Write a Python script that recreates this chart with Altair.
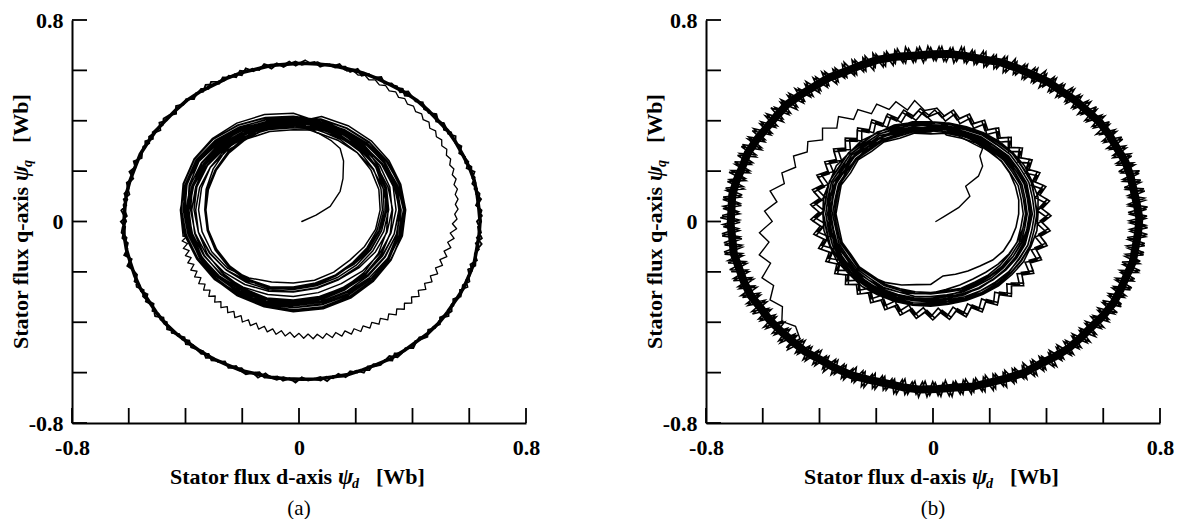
import numpy as np
import pandas as pd
import altair as alt

# ---------------- text ----------------
X_TITLE = ["Stator flux d-axis", "ψ", "d", "[Wb]"]
Y_TITLE = ["Stator flux q-axis", "ψ", "q", "[Wb]"]
CAPTIONS = ["(a)", "(b)"]
TICKS = [-0.8, -0.6, -0.4, -0.2, 0.0, 0.2, 0.4, 0.6, 0.8]
LABEL_VALUES = [-0.8, 0.0, 0.8]
LABEL_TEXT = ["-0.8", "0", "0.8"]

# ---------------- panel (a) ----------------
A_START_X = [0.01, 0.06, 0.11, 0.145, 0.155, 0.157, 0.145, 0.115, 0.07, 0.02, -0.02]
A_START_Y = [0.0, 0.025, 0.06, 0.12, 0.17, 0.24, 0.29, 0.32, 0.35, 0.37, 0.376]

A_INNER_CENTER = (-0.02, 0.046)
A_INNER_STEP = 15
A_INNER_LOOPS = [
    [0.330,0.332,0.336,0.340,0.338,0.335,0.334,0.333,0.332,0.328,0.312,0.296,0.290,0.289,0.285,0.282,0.290,0.300,0.306,0.312,0.316,0.320,0.325,0.330],
    [0.334,0.340,0.348,0.354,0.358,0.356,0.350,0.346,0.342,0.336,0.326,0.316,0.306,0.300,0.298,0.304,0.314,0.322,0.330,0.336,0.338,0.340,0.340,0.338],
    [0.340,0.348,0.358,0.366,0.372,0.368,0.362,0.358,0.354,0.348,0.342,0.334,0.326,0.322,0.320,0.326,0.334,0.342,0.348,0.352,0.352,0.348,0.346,0.344],
    [0.348,0.356,0.368,0.378,0.384,0.380,0.372,0.368,0.364,0.360,0.354,0.348,0.344,0.340,0.338,0.344,0.350,0.356,0.362,0.364,0.360,0.358,0.354,0.350],
    [0.354,0.362,0.374,0.384,0.390,0.388,0.382,0.378,0.374,0.370,0.366,0.362,0.358,0.356,0.356,0.360,0.364,0.368,0.372,0.372,0.370,0.366,0.362,0.358],
    [0.350,0.340,0.330,0.322,0.316,0.312,0.310,0.312,0.316,0.320,0.322,0.320,0.316,0.312,0.310,0.312,0.316,0.322,0.328,0.334,0.340,0.346,0.352,0.358],
    [0.362,0.370,0.380,0.390,0.396,0.394,0.388,0.384,0.380,0.378,0.374,0.370,0.368,0.366,0.364,0.368,0.372,0.376,0.378,0.378,0.374,0.370,0.366,0.364],
    [0.370,0.378,0.388,0.398,0.404,0.402,0.396,0.392,0.390,0.388,0.386,0.384,0.382,0.380,0.378,0.380,0.384,0.386,0.388,0.386,0.382,0.378,0.374,0.372],
    [0.366,0.356,0.346,0.336,0.326,0.318,0.312,0.310,0.312,0.316,0.318,0.316,0.310,0.304,0.300,0.302,0.308,0.316,0.326,0.336,0.346,0.356,0.364,0.370],
    [0.372,0.380,0.390,0.398,0.402,0.400,0.396,0.394,0.392,0.392,0.390,0.388,0.388,0.386,0.384,0.386,0.388,0.390,0.390,0.388,0.384,0.380,0.376,0.374],
    [0.360,0.362,0.366,0.370,0.374,0.376,0.378,0.380,0.382,0.386,0.390,0.396,0.400,0.402,0.400,0.398,0.398,0.396,0.392,0.388,0.380,0.372,0.366,0.362],
    [0.356,0.346,0.336,0.326,0.318,0.314,0.312,0.314,0.318,0.322,0.324,0.322,0.316,0.308,0.302,0.300,0.304,0.312,0.320,0.328,0.336,0.342,0.348,0.352],
    [0.352,0.354,0.358,0.362,0.366,0.370,0.374,0.378,0.382,0.386,0.392,0.398,0.404,0.406,0.404,0.400,0.398,0.394,0.388,0.380,0.372,0.364,0.358,0.354],
    [0.346,0.348,0.352,0.356,0.362,0.366,0.370,0.376,0.380,0.384,0.388,0.392,0.396,0.398,0.396,0.394,0.390,0.386,0.380,0.372,0.364,0.356,0.350,0.348],
    [0.344,0.336,0.328,0.320,0.314,0.310,0.308,0.310,0.314,0.318,0.320,0.318,0.312,0.304,0.298,0.296,0.300,0.306,0.314,0.320,0.326,0.330,0.334,0.336],
    [0.338,0.340,0.344,0.348,0.352,0.356,0.358,0.360,0.362,0.362,0.362,0.362,0.360,0.360,0.360,0.358,0.356,0.354,0.350,0.346,0.342,0.340,0.338,0.338],
    [0.340,0.346,0.352,0.360,0.366,0.370,0.372,0.374,0.376,0.378,0.380,0.384,0.388,0.390,0.390,0.388,0.384,0.380,0.374,0.368,0.360,0.352,0.346,0.342],
    [0.334,0.338,0.344,0.352,0.358,0.364,0.368,0.370,0.372,0.374,0.376,0.376,0.374,0.370,0.366,0.362,0.358,0.354,0.350,0.346,0.342,0.338,0.336,0.334],
    [0.326,0.330,0.338,0.344,0.350,0.352,0.350,0.346,0.340,0.336,0.332,0.328,0.324,0.320,0.318,0.320,0.324,0.330,0.336,0.340,0.338,0.334,0.330,0.328],
    [0.318,0.322,0.326,0.332,0.338,0.342,0.344,0.346,0.350,0.354,0.358,0.362,0.364,0.362,0.358,0.352,0.346,0.340,0.334,0.328,0.324,0.320,0.318,0.318],
    [0.364,0.372,0.378,0.386,0.394,0.392,0.386,0.380,0.376,0.372,0.368,0.366,0.362,0.358,0.354,0.358,0.362,0.368,0.374,0.376,0.372,0.368,0.366,0.364],
    [0.358,0.364,0.372,0.380,0.388,0.394,0.398,0.396,0.392,0.388,0.384,0.380,0.378,0.376,0.374,0.372,0.374,0.376,0.378,0.376,0.372,0.368,0.364,0.360],
    [0.384,0.392,0.398,0.402,0.404,0.400,0.394,0.390,0.388,0.390,0.394,0.398,0.400,0.398,0.396,0.394,0.396,0.398,0.396,0.392,0.390,0.388,0.386,0.384],
    [0.346,0.354,0.364,0.374,0.384,0.392,0.398,0.402],
]

A_SPIRAL_CENTER = (0.0, 0.01)
A_SPIRAL_START = 190
A_SPIRAL_STEP = 2
A_SPIRAL_R = [
    0.402,0.421,0.405,0.424,0.407,0.426,0.410,0.429,0.412,0.432,0.415,0.434,0.417,0.437,0.420,0.439,0.422,0.442,0.425,0.444,
    0.428,0.447,0.430,0.449,0.433,0.452,0.435,0.455,0.438,0.457,0.440,0.460,0.443,0.462,0.446,0.465,0.448,0.467,0.451,0.470,
    0.454,0.474,0.458,0.478,0.462,0.481,0.465,0.485,0.469,0.489,0.473,0.493,0.477,0.497,0.481,0.500,0.484,0.504,0.488,0.508,
    0.492,0.512,0.496,0.516,0.500,0.519,0.503,0.523,0.507,0.527,0.511,0.531,0.515,0.535,0.519,0.538,0.522,0.542,0.527,0.547,
    0.532,0.552,0.536,0.557,0.541,0.557,0.549,0.562,0.554,0.566,0.559,0.571,0.563,0.576,0.568,0.581,0.573,0.585,0.578,0.590,
    0.581,0.593,0.584,0.595,0.585,0.598,0.589,0.601,0.592,0.603,0.595,0.606,0.597,0.609,0.600,0.611,0.603,0.614,0.605,0.617,
    0.608,0.619,0.611,0.622,0.613,0.625,0.616,0.627,0.619,0.630,
]

A_OUTER_CENTER = (0.01, 0.0)
A_OUTER_START = 90
A_OUTER_STEP = 2
A_OUTER_LOOPS = [
    [0.633,0.619,0.637,0.624,0.630,0.616,0.635,0.626,0.621,0.639,0.618,0.631,0.625,0.636,0.620,0.629,0.640,0.622,0.632,0.617,
     0.634,0.625,0.638,0.619,0.630,0.623,0.637,0.616,0.628,0.635,0.621,0.633,0.626,0.618,0.639,0.624,0.631,0.620,0.636,0.627,
     0.617,0.634,0.622,0.638,0.626,0.619,0.632,0.637,0.621,0.629,0.624,0.640,0.618,0.633,0.627,0.620,0.636,0.625,0.631,0.616,
     0.635,0.623,0.629,0.639,0.619,0.632,0.626,0.637,0.622,0.630,0.617,0.634,0.628,0.621,0.638,0.624,0.631,0.618,0.636,0.627,
     0.620,0.633,0.625,0.639,0.616,0.630,0.635,0.622,0.628,0.637,0.619,0.632,0.626,0.621,0.640,0.624,0.629,0.634,0.618,0.631,
     0.627,0.636,0.620,0.633,0.623,0.638,0.617,0.630,0.625,0.635,0.621,0.629,0.637,0.619,0.632,0.626,0.622,0.639,0.624,0.630,
     0.616,0.634,0.628,0.621,0.637,0.625,0.631,0.618,0.636,0.623,0.629,0.640,0.620,0.633,0.626,0.617,0.635,0.627,0.622,0.638,
     0.624,0.631,0.619,0.634,0.628,0.636,0.621,0.630,0.617,0.633,0.625,0.639,0.622,0.629,0.635,0.618,0.632,0.626,0.620,0.637,
     0.623,0.630,0.638,0.619,0.633,0.627,0.621,0.636,0.624,0.631,0.616,0.634,0.628,0.622,0.639,0.625,0.630,0.618,0.635,0.629],
    [0.622,0.636,0.628,0.617,0.634,0.625,0.639,0.620,0.631,0.626,0.637,0.618,0.633,0.623,0.629,0.640,0.621,0.635,0.627,0.619,
     0.632,0.624,0.638,0.616,0.630,0.636,0.622,0.628,0.634,0.619,0.637,0.625,0.631,0.620,0.633,0.627,0.639,0.618,0.629,0.624,
     0.635,0.621,0.632,0.626,0.617,0.638,0.623,0.630,0.636,0.619,0.627,0.633,0.622,0.640,0.625,0.618,0.631,0.637,0.620,0.634,
     0.628,0.616,0.635,0.624,0.632,0.621,0.639,0.626,0.630,0.618,0.636,0.623,0.629,0.634,0.620,0.637,0.627,0.622,0.633,0.619,
     0.631,0.638,0.625,0.617,0.634,0.628,0.621,0.636,0.624,0.640,0.619,0.630,0.626,0.635,0.622,0.632,0.618,0.637,0.627,0.623,
     0.639,0.620,0.629,0.634,0.625,0.617,0.636,0.631,0.621,0.638,0.626,0.619,0.633,0.628,0.624,0.635,0.618,0.630,0.637,0.622,
     0.627,0.633,0.620,0.639,0.624,0.629,0.616,0.636,0.631,0.623,0.634,0.619,0.638,0.626,0.621,0.632,0.628,0.635,0.617,0.630,
     0.636,0.622,0.631,0.625,0.640,0.618,0.633,0.627,0.620,0.637,0.624,0.629,0.634,0.619,0.632,0.626,0.638,0.621,0.628,0.635,
     0.623,0.630,0.617,0.636,0.627,0.633,0.620,0.639,0.625,0.631,0.622,0.637,0.618,0.634,0.628,0.624,0.632,0.626,0.629,0.630],
]
A_CORE_STEP = 5
A_CORE_R = [0.628,0.627,0.629,0.626,0.628,0.627,0.625,0.628,0.629,0.627,0.626,0.628,0.627,0.629,0.626,0.627,0.628,0.626,
            0.627,0.629,0.628,0.626,0.627,0.628,0.625,0.627,0.629,0.628,0.626,0.627,0.628,0.627,0.629,0.626,0.628,0.627,
            0.626,0.628,0.627,0.629,0.627,0.626,0.628,0.627,0.625,0.628,0.629,0.627,0.626,0.628,0.627,0.629,0.626,0.627,
            0.628,0.626,0.627,0.629,0.628,0.626,0.627,0.628,0.625,0.627,0.629,0.628,0.626,0.627,0.628,0.627,0.629,0.628]

# ---------------- panel (b) ----------------
B_START_X = [0.01, 0.04, 0.09, 0.13, 0.115, 0.16, 0.175, 0.165, 0.175, 0.14, 0.09, 0.03, -0.008]
B_START_Y = [0.0, 0.02, 0.055, 0.10, 0.14, 0.18, 0.22, 0.26, 0.29, 0.31, 0.34, 0.355, 0.36]

B_INNER_CENTER = (-0.008, 0.03)
B_INNER_STEP_A = 10
B_INNER_LOOPS_A = [
    [0.330,0.335,0.338,0.340,0.345,0.340,0.345,0.338,0.342,0.336,0.340,0.335,0.330,0.332,0.325,0.315,0.300,0.285,0.280,0.250,0.255,0.262,0.270,0.285,0.295,0.300,0.305,0.310,0.315,0.318,0.322,0.325,0.325,0.328,0.330,0.330],
    [0.335,0.345,0.342,0.352,0.348,0.356,0.350,0.358,0.352,0.356,0.350,0.354,0.346,0.350,0.342,0.338,0.330,0.322,0.315,0.305,0.300,0.298,0.302,0.310,0.318,0.325,0.330,0.335,0.338,0.342,0.340,0.345,0.340,0.342,0.338,0.338],
    [0.340,0.352,0.346,0.360,0.354,0.364,0.356,0.366,0.358,0.364,0.356,0.362,0.354,0.358,0.350,0.352,0.346,0.340,0.335,0.330,0.326,0.322,0.325,0.330,0.336,0.340,0.345,0.348,0.352,0.350,0.354,0.348,0.352,0.346,0.344,0.342],
    [0.344,0.350,0.356,0.352,0.360,0.356,0.362,0.358,0.364,0.360,0.362,0.358,0.360,0.354,0.356,0.350,0.352,0.346,0.344,0.340,0.342,0.338,0.342,0.346,0.350,0.354,0.352,0.358,0.354,0.360,0.356,0.358,0.352,0.354,0.348,0.346],
    [0.348,0.344,0.352,0.348,0.356,0.352,0.358,0.354,0.360,0.356,0.358,0.354,0.356,0.350,0.352,0.348,0.346,0.344,0.340,0.342,0.338,0.342,0.340,0.346,0.344,0.350,0.348,0.352,0.350,0.354,0.352,0.354,0.350,0.352,0.348,0.350],
    [0.352,0.358,0.362,0.366,0.364,0.370,0.366,0.372,0.368,0.370,0.366,0.368,0.364,0.366,0.360,0.362,0.356,0.358,0.354,0.352,0.356,0.352,0.356,0.360,0.358,0.364,0.362,0.366,0.364,0.368,0.364,0.366,0.360,0.362,0.356,0.354],
    [0.336,0.340,0.334,0.342,0.338,0.344,0.340,0.346,0.342,0.346,0.340,0.344,0.338,0.340,0.334,0.336,0.330,0.332,0.328,0.326,0.330,0.328,0.332,0.334,0.336,0.338,0.336,0.340,0.338,0.342,0.338,0.340,0.336,0.338,0.334,0.336],
    [0.358,0.364,0.370,0.374,0.372,0.378,0.374,0.380,0.376,0.378,0.374,0.376,0.372,0.374,0.368,0.370,0.366,0.364,0.362,0.360,0.362,0.364,0.366,0.368,0.370,0.372,0.370,0.374,0.372,0.376,0.372,0.374,0.368,0.370,0.364,0.362],
    [0.342,0.348,0.344,0.350,0.346,0.352,0.348,0.354,0.350,0.352,0.348,0.350,0.344,0.346,0.342,0.344,0.340,0.338,0.336,0.334,0.336,0.338,0.340,0.342,0.344,0.346,0.344,0.348,0.346,0.350,0.346,0.348,0.344,0.346,0.342,0.344],
    [0.362,0.368,0.376,0.372,0.380,0.376,0.384,0.378,0.384,0.380,0.382,0.378,0.380,0.374,0.376,0.372,0.370,0.368,0.366,0.364,0.366,0.368,0.372,0.374,0.378,0.376,0.380,0.378,0.384,0.380,0.382,0.378,0.376,0.372,0.368,0.366],
    [0.366,0.372,0.366,0.376,0.370,0.378,0.372,0.380,0.374,0.378,0.372,0.376,0.368,0.372,0.364,0.366,0.360,0.358,0.356,0.354,0.358,0.360,0.362,0.366,0.368,0.372,0.370,0.376,0.372,0.378,0.374,0.376,0.370,0.372,0.366,0.364],
    [0.356,0.362,0.358,0.366,0.362,0.370,0.364,0.372,0.366,0.370,0.364,0.368,0.360,0.364,0.356,0.358,0.352,0.350,0.348,0.346,0.350,0.352,0.354,0.358,0.360,0.364,0.362,0.366,0.364,0.368,0.364,0.366,0.362,0.364,0.360,0.362],
    [0.326,0.332,0.328,0.336,0.332,0.340,0.334,0.342,0.336,0.340,0.334,0.338,0.330,0.334,0.326,0.328,0.322,0.320,0.318,0.316,0.320,0.318,0.322,0.326,0.328,0.332,0.330,0.334,0.332,0.336,0.332,0.334,0.330,0.332,0.328,0.326],
    [0.318,0.326,0.320,0.330,0.324,0.334,0.326,0.336,0.330,0.334,0.328,0.332,0.324,0.328,0.320,0.322,0.316,0.314,0.312,0.310,0.314,0.312,0.316,0.318,0.320,0.324,0.322,0.326,0.324,0.328,0.324,0.326,0.322,0.324,0.320,0.318],
]
B_INNER_STEP_B = 4
B_INNER_STARTS_B = [90, 92, 91]
B_INNER_LOOPS_B = [
    [0.372,0.404,0.375,0.408,0.378,0.410,0.376,0.412,0.380,0.414,0.378,0.412,0.381,0.415,0.379,0.413,0.382,0.416,0.380,0.414,
     0.378,0.411,0.376,0.409,0.374,0.406,0.372,0.404,0.370,0.401,0.368,0.399,0.366,0.397,0.365,0.396,0.364,0.398,0.366,0.400,
     0.368,0.402,0.370,0.405,0.373,0.408,0.375,0.411,0.378,0.414,0.380,0.416,0.382,0.418,0.384,0.420,0.386,0.421,0.386,0.420,
     0.384,0.418,0.382,0.416,0.380,0.413,0.378,0.410,0.376,0.408,0.374,0.406,0.372,0.404,0.371,0.403,0.370,0.402,0.370,0.402,
     0.371,0.403,0.372,0.404,0.372,0.404,0.373,0.405,0.372,0.404],
    [0.384,0.412,0.386,0.416,0.388,0.418,0.387,0.420,0.390,0.421,0.388,0.419,0.391,0.422,0.389,0.420,0.392,0.423,0.390,0.421,
     0.388,0.418,0.386,0.416,0.384,0.413,0.382,0.411,0.380,0.408,0.378,0.406,0.377,0.404,0.376,0.403,0.375,0.404,0.377,0.406,
     0.379,0.409,0.381,0.411,0.383,0.414,0.385,0.417,0.388,0.420,0.390,0.422,0.392,0.424,0.394,0.426,0.395,0.427,0.395,0.426,
     0.393,0.424,0.391,0.422,0.389,0.419,0.387,0.417,0.385,0.415,0.384,0.413,0.382,0.411,0.381,0.410,0.380,0.409,0.380,0.409,
     0.381,0.410,0.382,0.411,0.383,0.412,0.384,0.413,0.384,0.413],
    [0.392,0.420,0.394,0.423,0.396,0.425,0.395,0.427,0.398,0.428,0.396,0.426,0.399,0.429,0.397,0.427,0.400,0.430,0.398,0.428,
     0.396,0.425,0.394,0.423,0.392,0.420,0.390,0.418,0.388,0.415,0.386,0.413,0.385,0.411,0.384,0.410,0.383,0.411,0.385,0.413,
     0.387,0.416,0.389,0.418,0.391,0.421,0.393,0.424,0.396,0.427,0.398,0.429,0.400,0.431,0.402,0.433,0.403,0.434,0.403,0.433,
     0.401,0.431,0.399,0.429,0.397,0.426,0.395,0.424,0.393,0.422,0.392,0.420,0.390,0.418,0.389,0.417,0.388,0.416,0.388,0.416,
     0.389,0.417,0.390,0.418,0.391,0.419,0.392,0.420,0.392,0.420],
]

B_SPIRAL_CENTER = (0.0, 0.02)
B_SPIRAL_START = 94
B_SPIRAL_STEP = 4
B_SPIRAL_R = [0.422,0.465,0.432,0.474,0.452,0.488,0.462,0.500,0.476,0.518,0.488,0.524,0.494,0.532,0.512,0.547,0.522,
              0.560,0.540,0.583,0.553,0.594,0.567,0.615,0.587,0.631,0.602,0.650,0.625,0.663,0.640,0.676,0.652,0.675]

B_OUTER_CENTER = (0.005, 0.0)
B_OUTER_XSTRETCH = 1.08
B_OUTER_START = 226
B_CORE_STEP = 5
B_CORE_R = [0.664,0.667,0.663,0.666,0.668,0.664,0.662,0.666,0.669,0.665,0.663,0.667,0.664,0.666,0.668,0.663,0.665,0.667,
            0.664,0.662,0.666,0.668,0.665,0.663,0.667,0.664,0.666,0.669,0.664,0.662,0.665,0.667,0.663,0.666,0.668,0.664,
            0.665,0.663,0.667,0.664,0.666,0.668,0.663,0.665,0.667,0.664,0.662,0.666,0.668,0.665,0.663,0.667,0.664,0.666,
            0.669,0.664,0.662,0.665,0.667,0.663,0.666,0.668,0.664,0.665,0.663,0.667,0.664,0.666,0.668,0.663,0.665,0.664]
B_TEETH_STEP = 1.5
B_TEETH_STARTS = [226, 226.75]
B_TEETH_LOOPS = [
    [0.694,0.638,0.691,0.641,0.696,0.637,0.692,0.640,0.689,0.636,0.695,0.639,0.693,0.642,0.690,0.637,0.697,0.640,0.692,0.636,
     0.690,0.640,0.695,0.637,0.693,0.641,0.688,0.638,0.696,0.636,0.691,0.642,0.694,0.639,0.690,0.637,0.695,0.640,0.692,0.638,
     0.697,0.636,0.691,0.640,0.693,0.637,0.689,0.642,0.695,0.638,0.692,0.636,0.696,0.641,0.690,0.639,0.694,0.637,0.691,0.640,
     0.693,0.642,0.696,0.638,0.690,0.636,0.694,0.640,0.692,0.637,0.697,0.641,0.689,0.638,0.695,0.636,0.691,0.642,0.694,0.639,
     0.690,0.637,0.695,0.640,0.693,0.636,0.691,0.641,0.696,0.638,0.689,0.640,0.694,0.637,0.692,0.642,0.697,0.638,0.690,0.636,
     0.695,0.641,0.691,0.638,0.694,0.636,0.690,0.640,0.696,0.637,0.693,0.642,0.689,0.639,0.695,0.636,0.692,0.641,0.697,0.638,
     0.692,0.636,0.696,0.640,0.690,0.637,0.694,0.642,0.691,0.638,0.695,0.636,0.693,0.640,0.689,0.637,0.696,0.641,0.691,0.639,
     0.694,0.640,0.689,0.637,0.697,0.641,0.692,0.636,0.695,0.639,0.690,0.642,0.694,0.638,0.691,0.636,0.696,0.640,0.693,0.637,
     0.691,0.642,0.695,0.638,0.692,0.636,0.697,0.640,0.690,0.637,0.694,0.641,0.692,0.639,0.696,0.636,0.689,0.640,0.695,0.638,
     0.696,0.637,0.690,0.641,0.694,0.638,0.691,0.636,0.695,0.642,0.693,0.637,0.697,0.640,0.690,0.638,0.694,0.636,0.692,0.641,
     0.689,0.639,0.694,0.636,0.696,0.640,0.691,0.642,0.693,0.637,0.690,0.641,0.695,0.638,0.692,0.636,0.697,0.640,0.691,0.637,
     0.695,0.640,0.692,0.637,0.690,0.641,0.696,0.638,0.693,0.636,0.694,0.642,0.691,0.639,0.697,0.637,0.690,0.640,0.694,0.638],
    [0.699,0.634,0.690,0.639,0.695,0.632,0.692,0.637,0.698,0.635,0.689,0.640,0.694,0.633,0.691,0.638,0.697,0.634,0.693,0.636,
     0.688,0.639,0.696,0.633,0.691,0.637,0.699,0.635,0.690,0.640,0.694,0.632,0.697,0.638,0.692,0.634,0.689,0.636,0.695,0.633,
     0.693,0.637,0.698,0.634,0.690,0.639,0.694,0.632,0.696,0.636,0.691,0.640,0.699,0.635,0.689,0.633,0.695,0.638,0.692,0.634,
     0.697,0.636,0.691,0.633,0.694,0.639,0.688,0.635,0.698,0.632,0.693,0.637,0.690,0.640,0.696,0.634,0.692,0.636,0.699,0.633,
     0.690,0.638,0.695,0.635,0.692,0.632,0.697,0.639,0.689,0.636,0.694,0.633,0.698,0.637,0.691,0.640,0.696,0.634,0.693,0.638,
     0.699,0.633,0.689,0.637,0.694,0.640,0.691,0.634,0.697,0.636,0.692,0.632,0.695,0.639,0.690,0.635,0.698,0.633,0.693,0.637,
     0.691,0.640,0.696,0.634,0.688,0.636,0.694,0.632,0.699,0.638,0.692,0.635,0.690,0.639,0.697,0.633,0.693,0.637,0.689,0.634,
     0.695,0.636,0.692,0.639,0.698,0.633,0.690,0.637,0.694,0.640,0.696,0.632,0.691,0.635,0.699,0.638,0.693,0.634,0.689,0.636,
     0.697,0.632,0.691,0.638,0.695,0.635,0.692,0.640,0.689,0.633,0.698,0.637,0.694,0.634,0.690,0.639,0.696,0.636,0.693,0.632,
     0.690,0.637,0.699,0.633,0.693,0.639,0.688,0.635,0.695,0.638,0.691,0.632,0.697,0.636,0.694,0.640,0.689,0.634,0.698,0.637,
     0.694,0.635,0.690,0.640,0.696,0.633,0.692,0.637,0.699,0.634,0.689,0.638,0.695,0.632,0.691,0.636,0.697,0.639,0.693,0.635,
     0.692,0.638,0.697,0.634,0.690,0.636,0.695,0.639,0.693,0.633,0.698,0.637,0.691,0.640,0.694,0.632,0.689,0.636,0.696,0.634],
]

# ---------------- helpers ----------------
FONT = "Liberation Serif"
W, H = 454, 403
SCALE = alt.Scale(domain=[-0.8, 0.8], nice=False, zero=False)
LABEL_EXPR = "datum.value < 0 ? '%s' : (datum.value > 0 ? '%s' : '%s')" % (LABEL_TEXT[0], LABEL_TEXT[2], LABEL_TEXT[1])


def make_axis(pad):
    return alt.Axis(values=LABEL_VALUES, labelExpr=LABEL_EXPR, title=None, grid=False, ticks=False,
                    tickSize=0, domain=True, domainColor="black", domainWidth=2, labelFont=FONT,
                    labelFontSize=22, labelFontWeight="bold", labelColor="black", labelPadding=pad,
                    labelFlush=False, labelOverlap=False, labelBound=False)


XAXIS = make_axis(14)
YAXIS = make_axis(9)
ONE = pd.DataFrame({"k": [0]})


def polar(center, radii, start, step, sx=1.0):
    r = np.asarray(radii, dtype=float)
    a = np.deg2rad(start + step * np.arange(len(r)))
    return center[0] + sx * r * np.cos(a), center[1] + r * np.sin(a)


def loops(center, loop_list, step, start=90, sx=1.0):
    starts = start if isinstance(start, (list, tuple)) else [start] * len(loop_list)
    xs, ys = [], []
    for r, s in zip(loop_list, starts):
        x, y = polar(center, r, s, step, sx)
        xs.append(x)
        ys.append(y)
    return np.concatenate(xs), np.concatenate(ys)


def close(xs, ys):
    return np.append(xs, xs[0]), np.append(ys, ys[0])


def joined(prev, cur):
    return np.insert(cur[0], 0, prev[0][-1]), np.insert(cur[1], 0, prev[1][-1])


def line_layer(xy, sw, join="round"):
    xs, ys = xy
    df = pd.DataFrame({"x": np.round(xs, 4), "y": np.round(ys, 4), "i": np.arange(len(xs))})
    return alt.Chart(df).mark_line(color="black", strokeWidth=sw, strokeJoin=join, strokeCap="round").encode(
        x=alt.X("x:Q", scale=SCALE, axis=XAXIS),
        y=alt.Y("y:Q", scale=SCALE, axis=YAXIS),
        order="i:Q",
    )


def txt(s, x, y, size=22, style="normal", weight="bold", angle=0, align="left"):
    return alt.Chart(ONE).mark_text(text=s, font=FONT, fontSize=size, fontWeight=weight, fontStyle=style,
                                    angle=angle, align=align, baseline="alphabetic", color="black").encode(
        x=alt.value(x), y=alt.value(y))


def frame_layers(caption):
    tdf = pd.DataFrame({"t": TICKS})
    xt = alt.Chart(tdf).mark_rule(color="black", strokeWidth=1.8).encode(
        x=alt.X("t:Q", scale=SCALE, axis=XAXIS), y=alt.value(H), y2=alt.value(H - 15))
    yt = alt.Chart(tdf).mark_rule(color="black", strokeWidth=1.8).encode(
        y=alt.Y("t:Q", scale=SCALE, axis=YAXIS), x=alt.value(0), x2=alt.value(15))
    marker = alt.Chart(ONE).mark_rule(opacity=0, strokeWidth=0).encode(
        x=alt.value(-72), x2=alt.value(-72), y=alt.value(-20), y2=alt.value(-20))
    xs0 = 98
    yb = 464
    xtitle = [txt(X_TITLE[0], xs0, yb), txt(X_TITLE[1], xs0 + 168, yb, size=23, style="italic"),
              txt(X_TITLE[2], xs0 + 182, yb + 4, size=14, style="italic"), txt(X_TITLE[3], xs0 + 206, yb)]
    ys0 = 329
    xb = -44
    ytitle = [txt(Y_TITLE[0], xb, ys0, angle=270),
              txt(Y_TITLE[1], xb, ys0 - 168, size=23, style="italic", angle=270),
              txt(Y_TITLE[2], xb + 4, ys0 - 182, size=14, style="italic", angle=270),
              txt(Y_TITLE[3], xb, ys0 - 206, angle=270)]
    cap = txt(caption, W / 2, 495, size=21, weight="normal", align="center")
    return [xt, yt, marker] + xtitle + ytitle + [cap]


# ---------------- panel (a) ----------------
a_start = (np.array(A_START_X), np.array(A_START_Y))
a_inner = joined(a_start, loops(A_INNER_CENTER, A_INNER_LOOPS, A_INNER_STEP))
a_spiral = joined(a_inner, polar(A_SPIRAL_CENTER, A_SPIRAL_R, A_SPIRAL_START, A_SPIRAL_STEP))
a_outer = joined(a_spiral, close(*loops(A_OUTER_CENTER, A_OUTER_LOOPS, A_OUTER_STEP, start=A_OUTER_START)))
a_core = close(*polar(A_OUTER_CENTER, A_CORE_R, A_OUTER_START, A_CORE_STEP))

panel_a = alt.layer(
    line_layer(a_start, 1.4), line_layer(a_inner, 1.5), line_layer(a_spiral, 1.3),
    line_layer(a_core, 3.5), line_layer(a_outer, 1.8, "miter"),
    *frame_layers(CAPTIONS[0])
).properties(width=W, height=H)

# ---------------- panel (b) ----------------
b_start = (np.array(B_START_X), np.array(B_START_Y))
bi_a = loops(B_INNER_CENTER, B_INNER_LOOPS_A, B_INNER_STEP_A)
bi_b = loops(B_INNER_CENTER, B_INNER_LOOPS_B, B_INNER_STEP_B, start=B_INNER_STARTS_B)
b_inner = joined(b_start, (np.concatenate([bi_a[0], bi_b[0]]), np.concatenate([bi_a[1], bi_b[1]])))
b_spiral = joined(b_inner, polar(B_SPIRAL_CENTER, B_SPIRAL_R, B_SPIRAL_START, B_SPIRAL_STEP))
b_teeth = joined(b_spiral, close(*loops(B_OUTER_CENTER, B_TEETH_LOOPS, B_TEETH_STEP,
                                        start=B_TEETH_STARTS, sx=B_OUTER_XSTRETCH)))
b_core = close(*polar(B_OUTER_CENTER, B_CORE_R, B_OUTER_START, B_CORE_STEP, B_OUTER_XSTRETCH))

panel_b = alt.layer(
    line_layer(b_start, 1.4), line_layer(b_inner, 1.6, "miter"), line_layer(b_spiral, 1.4, "miter"),
    line_layer(b_core, 8), line_layer(b_teeth, 1.6, "miter"),
    *frame_layers(CAPTIONS[1])
).properties(width=W, height=H)

chart = alt.hconcat(panel_a, panel_b, spacing=180, bounds="flush").properties(
    padding=0, background="white").configure_view(stroke=None)

chart.save("out.html", embed_options={"renderer": "svg", "actions": False})
